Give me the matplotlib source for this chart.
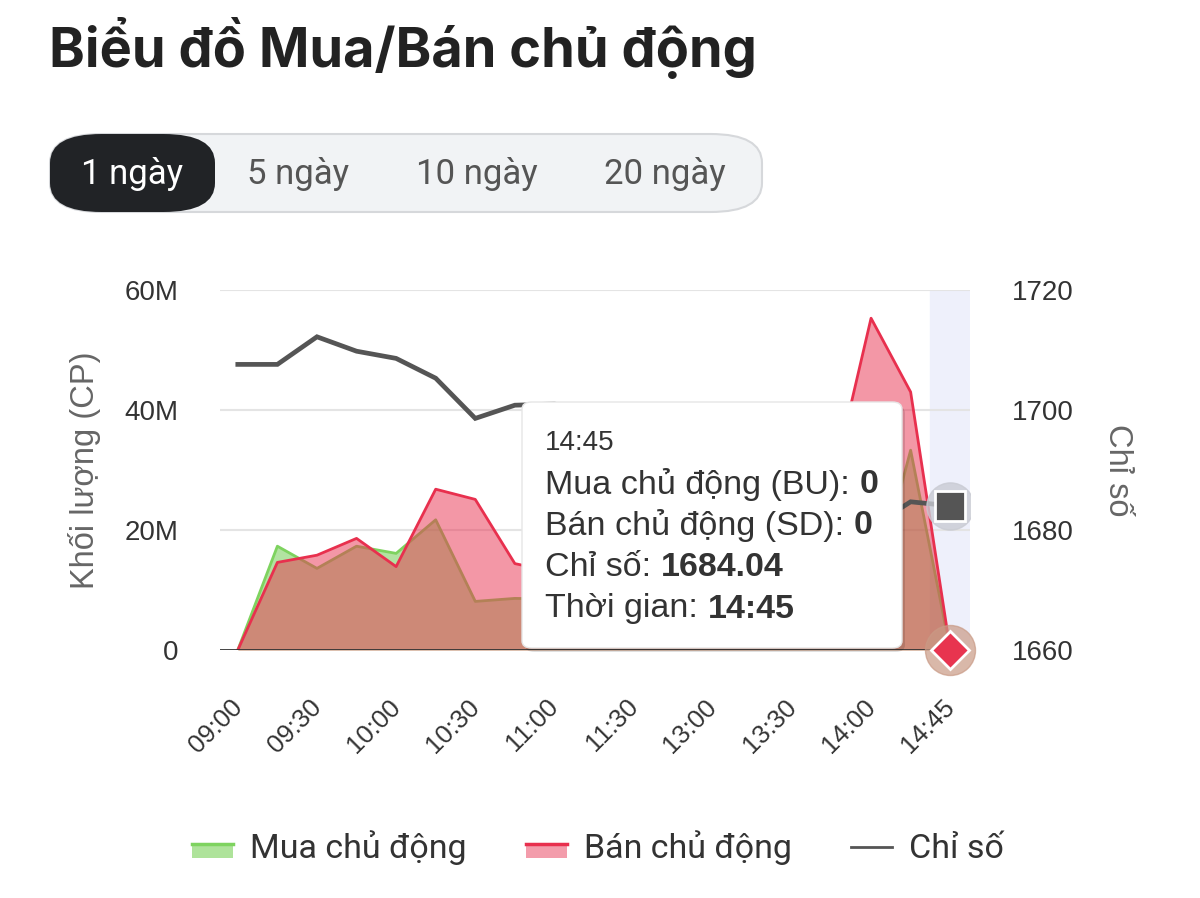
import matplotlib
matplotlib.use("Agg")
import matplotlib.pyplot as plt
import matplotlib.transforms as mtransforms
from matplotlib.patches import FancyBboxPatch, Rectangle, Patch
from matplotlib.lines import Line2D
from matplotlib.legend_handler import HandlerBase
from matplotlib.ticker import FixedLocator, FixedFormatter

# ---------------- data ----------------
times = ["09:00", "09:15", "09:30", "09:45", "10:00", "10:15", "10:30", "10:45",
         "11:00", "11:15", "11:30", "11:45", "13:00", "13:15", "13:30", "13:45",
         "14:00", "14:30", "14:45"]
tick_labels = ["09:00", "09:30", "10:00", "10:30", "11:00", "11:30",
               "13:00", "13:30", "14:00", "14:45"]
buy_m = [0, 17.3, 13.6, 17.3, 16.1, 21.7, 8.1, 8.6, 8.5, 7.5,
         9.0, 6.5, 7.0, 8.0, 9.5, 10.0, 8.3, 33.3, 0]          # million shares
sell_m = [0, 14.6, 15.8, 18.6, 13.9, 26.8, 25.1, 14.4, 13.0, 10.5,
          12.0, 9.0, 10.0, 11.5, 13.0, 27.0, 55.3, 43.0, 0]     # million shares
index_vals = [1707.6, 1707.6, 1712.2, 1709.8, 1708.6, 1705.3, 1698.6, 1700.8,
              1701.0, 1699.5, 1697.5, 1695.0, 1693.0, 1690.5, 1688.0, 1685.5,
              1680.5, 1684.7, 1684.04]
vol_ticks = [0, 20e6, 40e6, 60e6]
vol_tick_labels = ["0", "20M", "40M", "60M"]
idx_ticks = [1660, 1680, 1700, 1720]
idx_tick_labels = ["1660", "1680", "1700", "1720"]
periods = ["1 ngày", "5 ngày", "10 ngày", "20 ngày"]
tooltip_rows = [("Mua chủ động (BU): ", "0"),
                ("Bán chủ động (SD): ", "0"),
                ("Chỉ số: ", "1684.04"),
                ("Thời gian: ", "14:45")]

W, H = 1200, 898
def fx(x): return x / W
def fy(y): return 1 - y / H

FONT = ["Liberation Sans", "DejaVu Sans"]
plt.rcParams['font.family'] = FONT

GREEN_LINE = "#7ed35f"
GREEN_FILL = (0.45, 0.80, 0.33, 0.55)
RED_LINE = "#e8304e"
RED_FILL = (0.91, 0.19, 0.31, 0.50)
IDX_COLOR = "#555555"
TXT = "#333333"

fig = plt.figure(figsize=(W / 100, H / 100), dpi=100)
fig.patch.set_facecolor("white")

ax = fig.add_axes([fx(220), fy(650), (970 - 220) / W, (650 - 290) / H])
ax2 = ax.twinx()
ax.set_zorder(1)
ax2.set_zorder(2)
ax.patch.set_visible(False)
ax2.patch.set_visible(False)

x = list(range(len(times)))
buy = [v * 1e6 for v in buy_m]
sell = [v * 1e6 for v in sell_m]

# highlight band at last category
ax.axvspan(x[-1] - 0.5, x[-1] + 0.5, color="#eef0fb", zorder=0)

for t in vol_ticks[1:]:
    ax.axhline(t, color="#e4e4e4", lw=1.5, zorder=0.5)
ax.axhline(0, color="#333333", lw=2, zorder=5)

ax.fill_between(x, buy, 0, color=GREEN_FILL, lw=0, zorder=2)
ax.plot(x, buy, color=GREEN_LINE, lw=2, zorder=2.5)
ax.fill_between(x, sell, 0, color=RED_FILL, lw=0, zorder=3)
ax.plot(x, sell, color=RED_LINE, lw=2, zorder=3.5)

ax.set_xlim(-0.45, len(times) - 0.5)
ax.set_ylim(0, 60e6)
ax2.set_ylim(1660, 1720)

ax2.plot(x, index_vals, color=IDX_COLOR, lw=3.4, solid_joinstyle="miter", zorder=4)

# end markers
ax2.plot(x[-1], index_vals[-1], "o", ms=34, color="#c9cbd3", alpha=0.8, zorder=5)
ax2.plot(x[-1], index_vals[-1], "s", ms=21, mfc=IDX_COLOR, mec="white", mew=2, zorder=6)
ax.plot(x[-1], sell[-1], "o", ms=36, color="#c99a85", alpha=0.7, zorder=6, clip_on=False)
ax.plot(x[-1], sell[-1], "D", ms=19, mfc="#e8344f", mec="white", mew=2, zorder=7, clip_on=False)

# ticks
tick_pos = [times.index(t) for t in tick_labels]
ax.xaxis.set_major_locator(FixedLocator(tick_pos))
ax.xaxis.set_major_formatter(FixedFormatter(tick_labels))
ax.tick_params(axis="x", length=0, pad=32, labelsize=18.5, labelcolor=TXT)
shift = mtransforms.ScaledTranslation(-8 / 100, 0, fig.dpi_scale_trans)
for lab in ax.get_xticklabels():
    lab.set_rotation(45)
    lab.set_ha("right")
    lab.set_rotation_mode("anchor")
    lab.set_transform(lab.get_transform() + shift)

ax.yaxis.set_major_locator(FixedLocator(vol_ticks))
ax.yaxis.set_major_formatter(FixedFormatter(vol_tick_labels))
ax.tick_params(axis="y", length=0, pad=30, labelsize=20, labelcolor=TXT)
ax2.yaxis.set_major_locator(FixedLocator(idx_ticks))
ax2.yaxis.set_major_formatter(FixedFormatter(idx_tick_labels))
ax2.tick_params(axis="y", length=0, pad=30, labelsize=20, labelcolor=TXT)

for a in (ax, ax2):
    for s in a.spines.values():
        s.set_visible(False)

ax.set_ylabel("Khối lượng (CP)", fontsize=23.5, color="#666666", labelpad=17)
ax2.set_ylabel("Chỉ số", fontsize=23.5, color="#666666", rotation=270, labelpad=43)

# title
fig.text(fx(49), fy(48), "Biểu đồ Mua/Bán chủ động", fontsize=39, fontweight="bold",
         family=["Inter", "DejaVu Sans"], color="#222222", va="center", ha="left")

# period selector
outer = FancyBboxPatch((fx(50), fy(212)), fx(762) - fx(50), fy(134) - fy(212),
                       boxstyle="round,pad=0,rounding_size=0.043",
                       transform=fig.transFigure, fc="#f1f3f5", ec="#d6d8db", lw=1.5,
                       mutation_aspect=H / W)
fig.add_artist(outer)
sel = FancyBboxPatch((fx(50), fy(212)), fx(215) - fx(50), fy(134) - fy(212),
                     boxstyle="round,pad=0,rounding_size=0.043",
                     transform=fig.transFigure, fc="#212326", ec="none",
                     mutation_aspect=H / W)
fig.add_artist(sel)
centers = [132, 298, 477, 665]
for i, (p, cx) in enumerate(zip(periods, centers)):
    fig.text(fx(cx), fy(174), p, fontsize=25, family=["Roboto", "DejaVu Sans"],
             color="white" if i == 0 else "#555555", ha="center", va="center")

# tooltip
shadow = FancyBboxPatch((fx(525), fy(652)), fx(902) - fx(522), fy(402) - fy(648),
                        boxstyle="round,pad=0,rounding_size=0.008",
                        transform=fig.transFigure, fc="#000000", ec="none", alpha=0.12,
                        zorder=20)
fig.add_artist(shadow)
tip = FancyBboxPatch((fx(522), fy(648)), fx(902) - fx(522), fy(402) - fy(648),
                     boxstyle="round,pad=0,rounding_size=0.008",
                     transform=fig.transFigure, fc="white", ec="#e6e6e6", lw=1,
                     zorder=21)
fig.add_artist(tip)
fig.text(fx(545), fy(443), times[-1], fontsize=20, color=TXT, ha="left", va="center", zorder=22)
renderer = fig.canvas.get_renderer()
row_y = [485, 526, 568, 609]
for (lab, val), yy in zip(tooltip_rows, row_y):
    t = fig.text(fx(545), fy(yy), lab, fontsize=24.5, color=TXT, ha="left", va="center", zorder=22)
    bb = t.get_window_extent(renderer=renderer)
    fig.text(bb.x1 / W, fy(yy), val, fontsize=24.5, fontweight="bold", color=TXT,
             ha="left", va="center", zorder=22)

# legend
class HandlerTopLine(HandlerBase):
    def __init__(self, fill, line):
        super().__init__()
        self.fill, self.line = fill, line
    def create_artists(self, legend, orig_handle, xdescent, ydescent, width, height, fontsize, trans):
        r = Rectangle((-xdescent, -ydescent + height * 0.0), width, height * 0.6,
                      fc=self.fill, ec="none", transform=trans)
        l = Line2D([-xdescent, -xdescent + width], [-ydescent + height * 0.6] * 2,
                   color=self.line, lw=2.5, transform=trans)
        return [r, l]

h_buy = Patch(label="Mua chủ động")
h_sell = Patch(label="Bán chủ động")
h_idx = Line2D([], [], color=IDX_COLOR, lw=2, label="Chỉ số")
fig.legend(handles=[h_buy, h_sell, h_idx], loc="center",
           bbox_to_anchor=(fx(598), fy(848)), ncol=3, frameon=False,
           prop={"family": ["Roboto", "DejaVu Sans"], "size": 24.5},
           labelcolor="#333333", handlelength=1.2, handletextpad=0.5, columnspacing=1.75,
           handler_map={h_buy: HandlerTopLine("#aee39a", GREEN_LINE),
                        h_sell: HandlerTopLine("#f39cab", RED_LINE)})

fig.savefig("out.png", dpi=100, facecolor="white")
